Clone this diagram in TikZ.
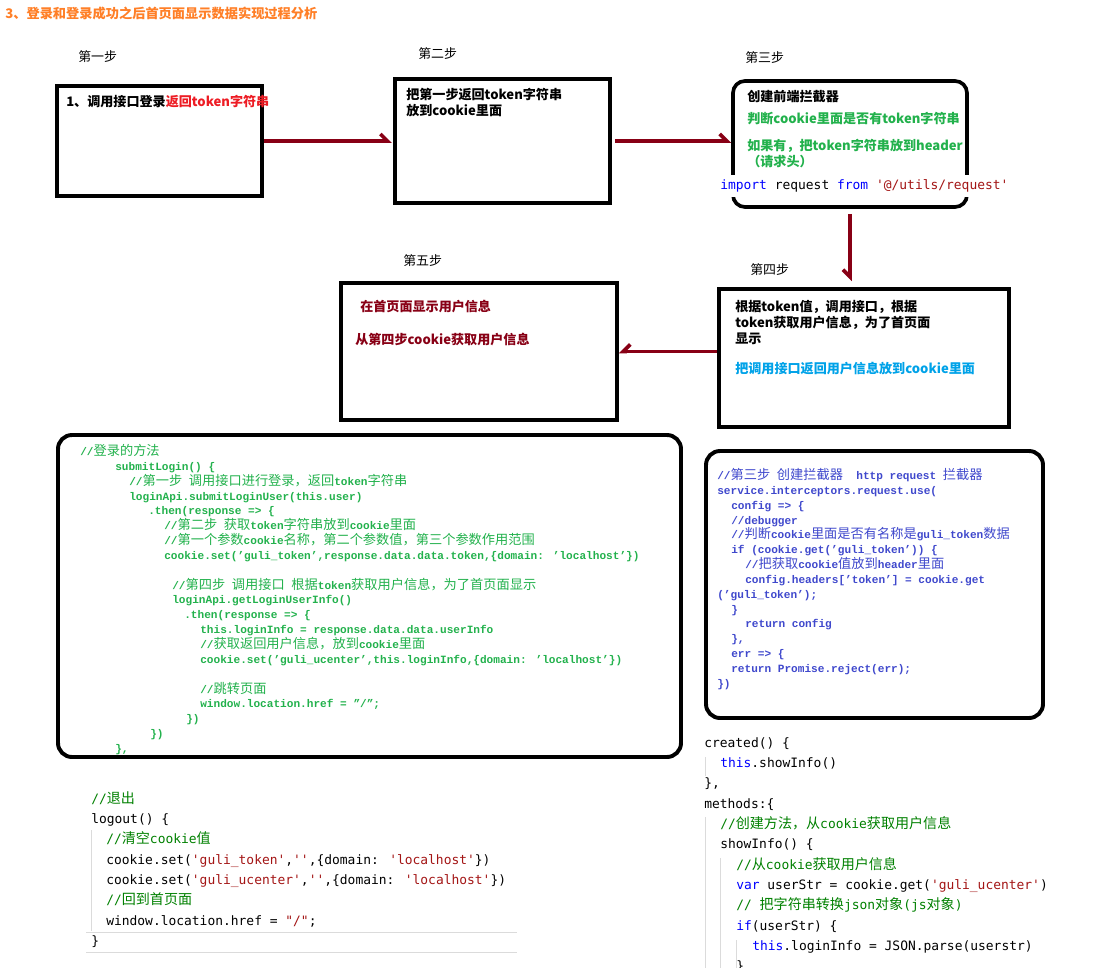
\documentclass[tikz,border=0pt]{standalone}
\usepackage{fontspec}
\setmainfont{Noto Sans CJK SC}
\newfontfamily\cjkf{Noto Sans CJK SC}
\newfontfamily\boxmono{Liberation Mono}[Scale=0.84, Ligatures=TeX]
\newfontfamily\plainmono{DejaVu Sans Mono}[Scale=0.92]
\usetikzlibrary{arrows.meta}
\definecolor{dRed}{HTML}{880015}
\definecolor{bRed}{HTML}{ED1C24}
\definecolor{tOrange}{HTML}{FF7F27}
\definecolor{pGreen}{HTML}{22B14C}
\definecolor{pBlue}{HTML}{00A2E8}
\definecolor{pIndigo}{HTML}{3F48CC}
\definecolor{cGreen}{HTML}{008000}
\definecolor{cStr}{HTML}{A31515}
\definecolor{cKey}{HTML}{0000FF}
\definecolor{gLine}{gray}{0.86}
\newlength\pxu
\setlength\pxu{0.025cm}
\newcommand\codeind[1]{\hspace*{#1\pxu}}
\newcommand\zh[1]{{\cjkf\mdseries #1}}

\begin{document}
\begin{tikzpicture}[x=0.025cm, y=-0.025cm,
    txt/.style={inner sep=0pt, anchor=west, align=left, font=\bfseries\fontsize{9.3}{11.3}\selectfont},
    steplabel/.style={inner sep=0pt, anchor=west, font=\fontsize{9.2}{11}\selectfont},
    stepbox/.style={draw, line width=2.6pt, inner sep=0pt},
    flow/.style={draw=dRed, line width=2.6pt, -{Straight Barb[harpoon, length=5pt, width=10pt]}},
    flowswap/.style={draw=dRed, line width=2.6pt, -{Straight Barb[harpoon, swap, length=5pt, width=10pt]}},
    codebox/.style={draw, line width=2.8pt, inner sep=0pt, rounded corners=0.35cm},
    boxcode/.style={inner sep=0pt, anchor=north west, align=left, font=\boxmono\bfseries\fontsize{9.4}{10.56}\selectfont},
    plaincode/.style={inner sep=0pt, anchor=north west, align=left, font=\plainmono\fontsize{10}{14.46}\selectfont},
  ]
  \useasboundingbox (0,0) rectangle (1094,968);

  \node [anchor=west, inner sep=0pt, text=tOrange, font=\bfseries\fontsize{9.4}{11}\selectfont] (title) at (5,13) {3、登录和登录成功之后首页面显示数据实现过程分析};

  \node [steplabel] (l1) at (78,57) {第一步};
  \node [steplabel] (l2) at (418,54) {第二步};
  \node [steplabel] (l3) at (745,58) {第三步};
  \node [steplabel] (l4) at (750,270) {第四步};
  \node [steplabel] (l5) at (403,261) {第五步};

  \node [stepbox, minimum width=205\pxu, minimum height=110\pxu] (s1) at (159.5,141) {};
  \node [stepbox, minimum width=215\pxu, minimum height=124\pxu] (s2) at (502.5,141) {};
  \node [stepbox, rounded corners=0.3cm, minimum width=234\pxu, minimum height=126\pxu] (s3) at (850,144) {};
  \node [stepbox, minimum width=290\pxu, minimum height=138\pxu] (s4) at (864,358) {};
  \node [stepbox, minimum width=276\pxu, minimum height=137\pxu] (s5) at (479,351.5) {};

  \node [txt] (t1) at (66,102) {1、调用接口登录\textcolor{bRed}{返回token字符串}};
  \node [txt, anchor=north west] (t2) at (406,88) {把第一步返回token字符串\\放到cookie里面};
  \node [txt] (t3a) at (747,97) {创建前端拦截器};
  \node [txt, text=pGreen] (t3b) at (747,119) {判断cookie里面是否有token字符串};
  \node [txt, text=pGreen, anchor=north west] (t3c) at (747,139) {如果有，把token字符串放到header\\（请求头）};
  \node [fill=white, inner xsep=4\pxu, inner ysep=0pt, minimum height=22\pxu, anchor=west, font=\plainmono\fontsize{10}{12}\selectfont] (imp) at (716,186) {\textcolor{cKey}{import} request \textcolor{cKey}{from} \textcolor{cStr}{'@/utils/request'}};
  \node [txt, anchor=north west] (t4a) at (735,300) {根据token值，调用接口，根据\\token获取用户信息，为了首页面\\显示};
  \node [txt, text=pBlue] (t4b) at (735,369) {把调用接口返回用户信息放到cookie里面};
  \node [txt, text=dRed] (t5a) at (360,307) {在首页面显示用户信息};
  \node [txt, text=dRed] (t5b) at (355,340) {从第四步cookie获取用户信息};

  \draw [flow, shorten >=1pt] (s1.east) -- (s1.east -| s2.west);
  \draw [flow, shorten <=3\pxu] (s2.east) -- (s2.east -| s3.west);
  \draw [flowswap, shorten <=5\pxu, shorten >=6\pxu] (s3.south) -- (s3.south |- s4.north);
  \draw [flowswap] (s4.west |- s5.east) -- (s5.east);

  \node [codebox, minimum width=623\pxu, minimum height=322\pxu] (login) at (369.5,596) {};
  \node [codebox, minimum width=337\pxu, minimum height=267\pxu] (inter) at (874.5,584.5) {};

  \node [boxcode, text=pGreen] (logincode) at (80,444) {//\zh{登录的方法}\\
    \codeind{35}submitLogin() \{\\
    \codeind{49}//\zh{第一步} \zh{调用接口进行登录，返回}token\zh{字符串}\\
    \codeind{49}loginApi.submitLoginUser(this.user)\\
    \codeind{68}.then(response => \{\\
    \codeind{84}//\zh{第二步} \zh{获取}token\zh{字符串放到}cookie\zh{里面}\\
    \codeind{84}//\zh{第一个参数}cookie\zh{名称，第二个参数值，第三个参数作用范围}\\
    \codeind{84}cookie.set('guli\_token',response.data.data.token,\{domain: 'localhost'\})\\[10.56pt]
    \codeind{92}//\zh{第四步} \zh{调用接口} \zh{根据}token\zh{获取用户信息，为了首页面显示}\\
    \codeind{92}loginApi.getLoginUserInfo()\\
    \codeind{104}.then(response => \{\\
    \codeind{120}this.loginInfo = response.data.data.userInfo\\
    \codeind{120}//\zh{获取返回用户信息，放到}cookie\zh{里面}\\
    \codeind{120}cookie.set('guli\_ucenter',this.loginInfo,\{domain: 'localhost'\})\\[10.56pt]
    \codeind{120}//\zh{跳转页面}\\
    \codeind{120}window.location.href = ''/'';\\
    \codeind{106}\})\\
    \codeind{70}\})\\
    \codeind{35}\},};

  \node [boxcode, text=pIndigo] (intercode) at (717,468) {//\zh{第三步} \zh{创建拦截器}\ \ http request \zh{拦截器}\\
    service.interceptors.request.use(\\
    \codeind{14}config => \{\\
    \codeind{14}//debugger\\
    \codeind{14}//\zh{判断}cookie\zh{里面是否有名称是}guli\_token\zh{数据}\\
    \codeind{14}if (cookie.get('guli\_token')) \{\\
    \codeind{28}//\zh{把获取}cookie\zh{值放到}header\zh{里面}\\
    \codeind{28}config.headers['token'] = cookie.get\\
    ('guli\_token');\\
    \codeind{14}\}\\
    \codeind{28}return config\\
    \codeind{14}\},\\
    \codeind{14}err => \{\\
    \codeind{14}return Promise.reject(err);\\
    \})};

  \draw [gLine] (86,932) -- (517,932);
  \draw [gLine] (86,952) -- (517,952);
  \draw [gLine] (91,830) -- (91,931);
  \draw [gLine] (705,757) -- (705,776);
  \draw [gLine] (705,817) -- (705,968);
  \draw [gLine] (720,858) -- (720,968);
  \draw [gLine] (736,940) -- (736,968);

  \node [plaincode] (logout) at (91,791) {\textcolor{cGreen}{//\zh{退出}}\\
    logout() \{\\
    \codeind{15}\textcolor{cGreen}{//\zh{清空}cookie\zh{值}}\\
    \codeind{15}cookie.set(\textcolor{cStr}{'guli\_token'},\textcolor{cStr}{''},\{domain: \textcolor{cStr}{'localhost'}\})\\
    \codeind{15}cookie.set(\textcolor{cStr}{'guli\_ucenter'},\textcolor{cStr}{''},\{domain: \textcolor{cStr}{'localhost'}\})\\
    \codeind{15}\textcolor{cGreen}{//\zh{回到首页面}}\\
    \codeind{15}window.location.href = \textcolor{cStr}{"/"};\\
    \}};

  \node [plaincode] (created) at (704,737) {created() \{\\
    \codeind{16}\textcolor{cKey}{this}.showInfo()\\
    \},\\
    methods:\{\\
    \codeind{16}\textcolor{cGreen}{//\zh{创建方法，从}cookie\zh{获取用户信息}}\\
    \codeind{16}showInfo() \{\\
    \codeind{32}\textcolor{cGreen}{//\zh{从}cookie\zh{获取用户信息}}\\
    \codeind{32}\textcolor{cKey}{var} userStr = cookie.get(\textcolor{cStr}{'guli\_ucenter'})\\
    \codeind{32}\textcolor{cGreen}{// \zh{把字符串转换}json\zh{对象}(js\zh{对象})}\\
    \codeind{32}\textcolor{cKey}{if}(userStr) \{\\
    \codeind{48}\textcolor{cKey}{this}.loginInfo = JSON.parse(userstr)\\
    \codeind{32}\}};
\end{tikzpicture}
\end{document}
